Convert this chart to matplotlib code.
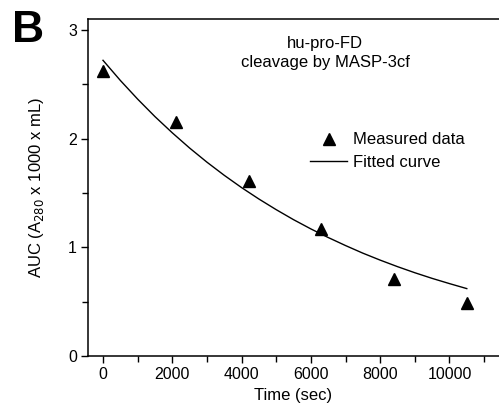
import numpy as np
import matplotlib
matplotlib.use("Agg")
import matplotlib.pyplot as plt
from matplotlib.transforms import IdentityTransform

plt.rcParams["font.family"] = ["Liberation Sans", "DejaVu Sans"]

# measured points
time_meas = [0, 2100, 4200, 6300, 8400, 10500]
auc_meas = [2.62, 2.15, 1.61, 1.17, 0.71, 0.49]

# fitted curve
time_fit = [0, 500, 1000, 1500, 2000, 2500, 3000, 3500, 4000, 4500, 5000,
            5500, 6000, 6500, 7000, 7500, 8000, 8500, 9000, 9500, 10000, 10500]
auc_fit = [2.72, 2.535, 2.363, 2.202, 2.053, 1.913, 1.783, 1.662, 1.549,
           1.444, 1.346, 1.254, 1.169, 1.090, 1.016, 0.946, 0.882, 0.822,
           0.766, 0.714, 0.666, 0.620]

x_ticks = [0, 2000, 4000, 6000, 8000, 10000]
y_ticks = [0, 1, 2, 3]


def main():
    fig = plt.figure(figsize=(4.99, 4.12), dpi=100)
    ax = fig.add_axes([88 / 499, 1 - 356 / 412, 1 - 88 / 499, (356 - 19) / 412])

    ax.plot(time_meas, auc_meas, linestyle="none", marker="^", color="k",
            markersize=8, label="Measured data")
    ax.plot(time_fit, auc_fit, color="k", linewidth=1.0, label="Fitted curve")

    ax.set_xlim(-433, 11430)
    ax.set_ylim(0, 3.1)
    ax.set_xticks(x_ticks)
    ax.set_xticks(np.arange(1000, 11001, 2000), minor=True)
    ax.set_yticks(y_ticks)
    ax.set_yticks([0.5, 1.5, 2.5], minor=True)

    ax.spines["right"].set_visible(False)
    for s in ["left", "top", "bottom"]:
        ax.spines[s].set_linewidth(1.1)
    ax.tick_params(which="major", direction="out", length=5, width=1.0,
                   labelsize=11.5, pad=3)
    ax.tick_params(which="minor", direction="out", length=4, width=1.0)

    ax.set_xlabel("Time (sec)", fontsize=12, labelpad=4)
    ax.set_ylabel("AUC (A$_{280}$ x 1000 x mL)", fontsize=12, labelpad=16)

    # title block inside the axes, placed in display pixels
    ax.text(325, 412 - 53, "hu-pro-FD\ncleavage by MASP-3cf",
            transform=IdentityTransform(), fontsize=12, ha="center",
            va="center", linespacing=1.4)

    ax.legend(loc="upper left", bbox_to_anchor=(0.525, 0.683), frameon=False,
              fontsize=12, handlelength=2.2, handletextpad=0.35,
              labelspacing=0.45, borderaxespad=0)

    fig.text(12 / 499, 1 - 30 / 412, "B", fontsize=32, fontweight="bold",
             va="center", ha="left")

    fig.savefig("out.png", dpi=100)


if __name__ == "__main__":
    main()
